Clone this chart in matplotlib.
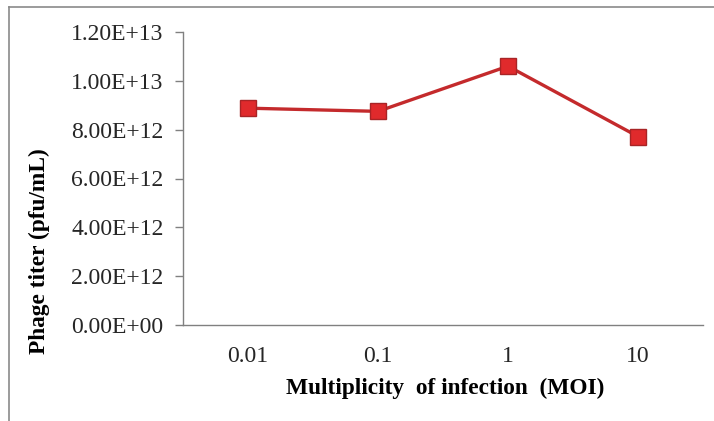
import matplotlib
matplotlib.use("Agg")
import matplotlib.pyplot as plt
from matplotlib.lines import Line2D

# Phage titer at each multiplicity of infection
moi_labels = ["0.01", "0.1", "1", "10"]
titer = [8.88e12, 8.75e12, 1.06e13, 7.72e12]
y_ticks = [0, 2e12, 4e12, 6e12, 8e12, 1e13, 1.2e13]

W, H = 714, 421
fig = plt.figure(figsize=(W / 100, H / 100), dpi=100)
plt.rcParams["font.family"] = ["Liberation Serif", "DejaVu Serif"]

# axes box in pixel coordinates
left, right, top, bottom = 183, 703, 32, 325
ax = fig.add_axes([left / W, 1 - bottom / H, (right - left) / W, (bottom - top) / H])

x = list(range(len(moi_labels)))
ax.plot(x, titer, color="#c42a2c", linewidth=2.4, marker="s", markersize=11.5,
        markerfacecolor="#e02a2c", markeredgecolor="#a82426", markeredgewidth=1.0,
        zorder=3)

ax.set_xlim(-0.5, len(moi_labels) - 0.5)
ax.set_ylim(0, 1.2e13)
ax.set_xticks(x)
ax.set_xticklabels(moi_labels)
ax.set_yticks(y_ticks)
ax.set_yticklabels(["%.2E" % v for v in y_ticks])

for s in ["top", "right"]:
    ax.spines[s].set_visible(False)
for s in ["left", "bottom"]:
    ax.spines[s].set_color("#808080")
    ax.spines[s].set_linewidth(1.0)

ax.tick_params(axis="y", direction="out", length=6, width=1.0, color="#808080",
               labelsize=17, pad=8, labelcolor="#262626")
ax.tick_params(axis="x", length=0, labelsize=17, pad=15, labelcolor="#262626")

ax.set_xlabel("Multiplicity  of infection  (MOI)", fontsize=16.8, fontweight="bold")
ax.set_ylabel("Phage titer (pfu/mL)", fontsize=16.8, fontweight="bold")
ax.yaxis.set_label_coords((39 - left) / (right - left), (bottom - 251) / (bottom - top))
ax.xaxis.set_label_coords((445 - left) / (right - left), (bottom - 388) / (bottom - top))
ax.xaxis.label.set_va("center")
ax.yaxis.label.set_va("center")

# outer frame (top and left edges)
fig.add_artist(Line2D([9 / W, 1], [1 - 7 / H, 1 - 7 / H], color="#8a8a8a",
                      linewidth=1.2, transform=fig.transFigure))
fig.add_artist(Line2D([9 / W, 9 / W], [0, 1 - 7 / H], color="#8a8a8a",
                      linewidth=1.2, transform=fig.transFigure))

fig.savefig("out.png", dpi=100)
